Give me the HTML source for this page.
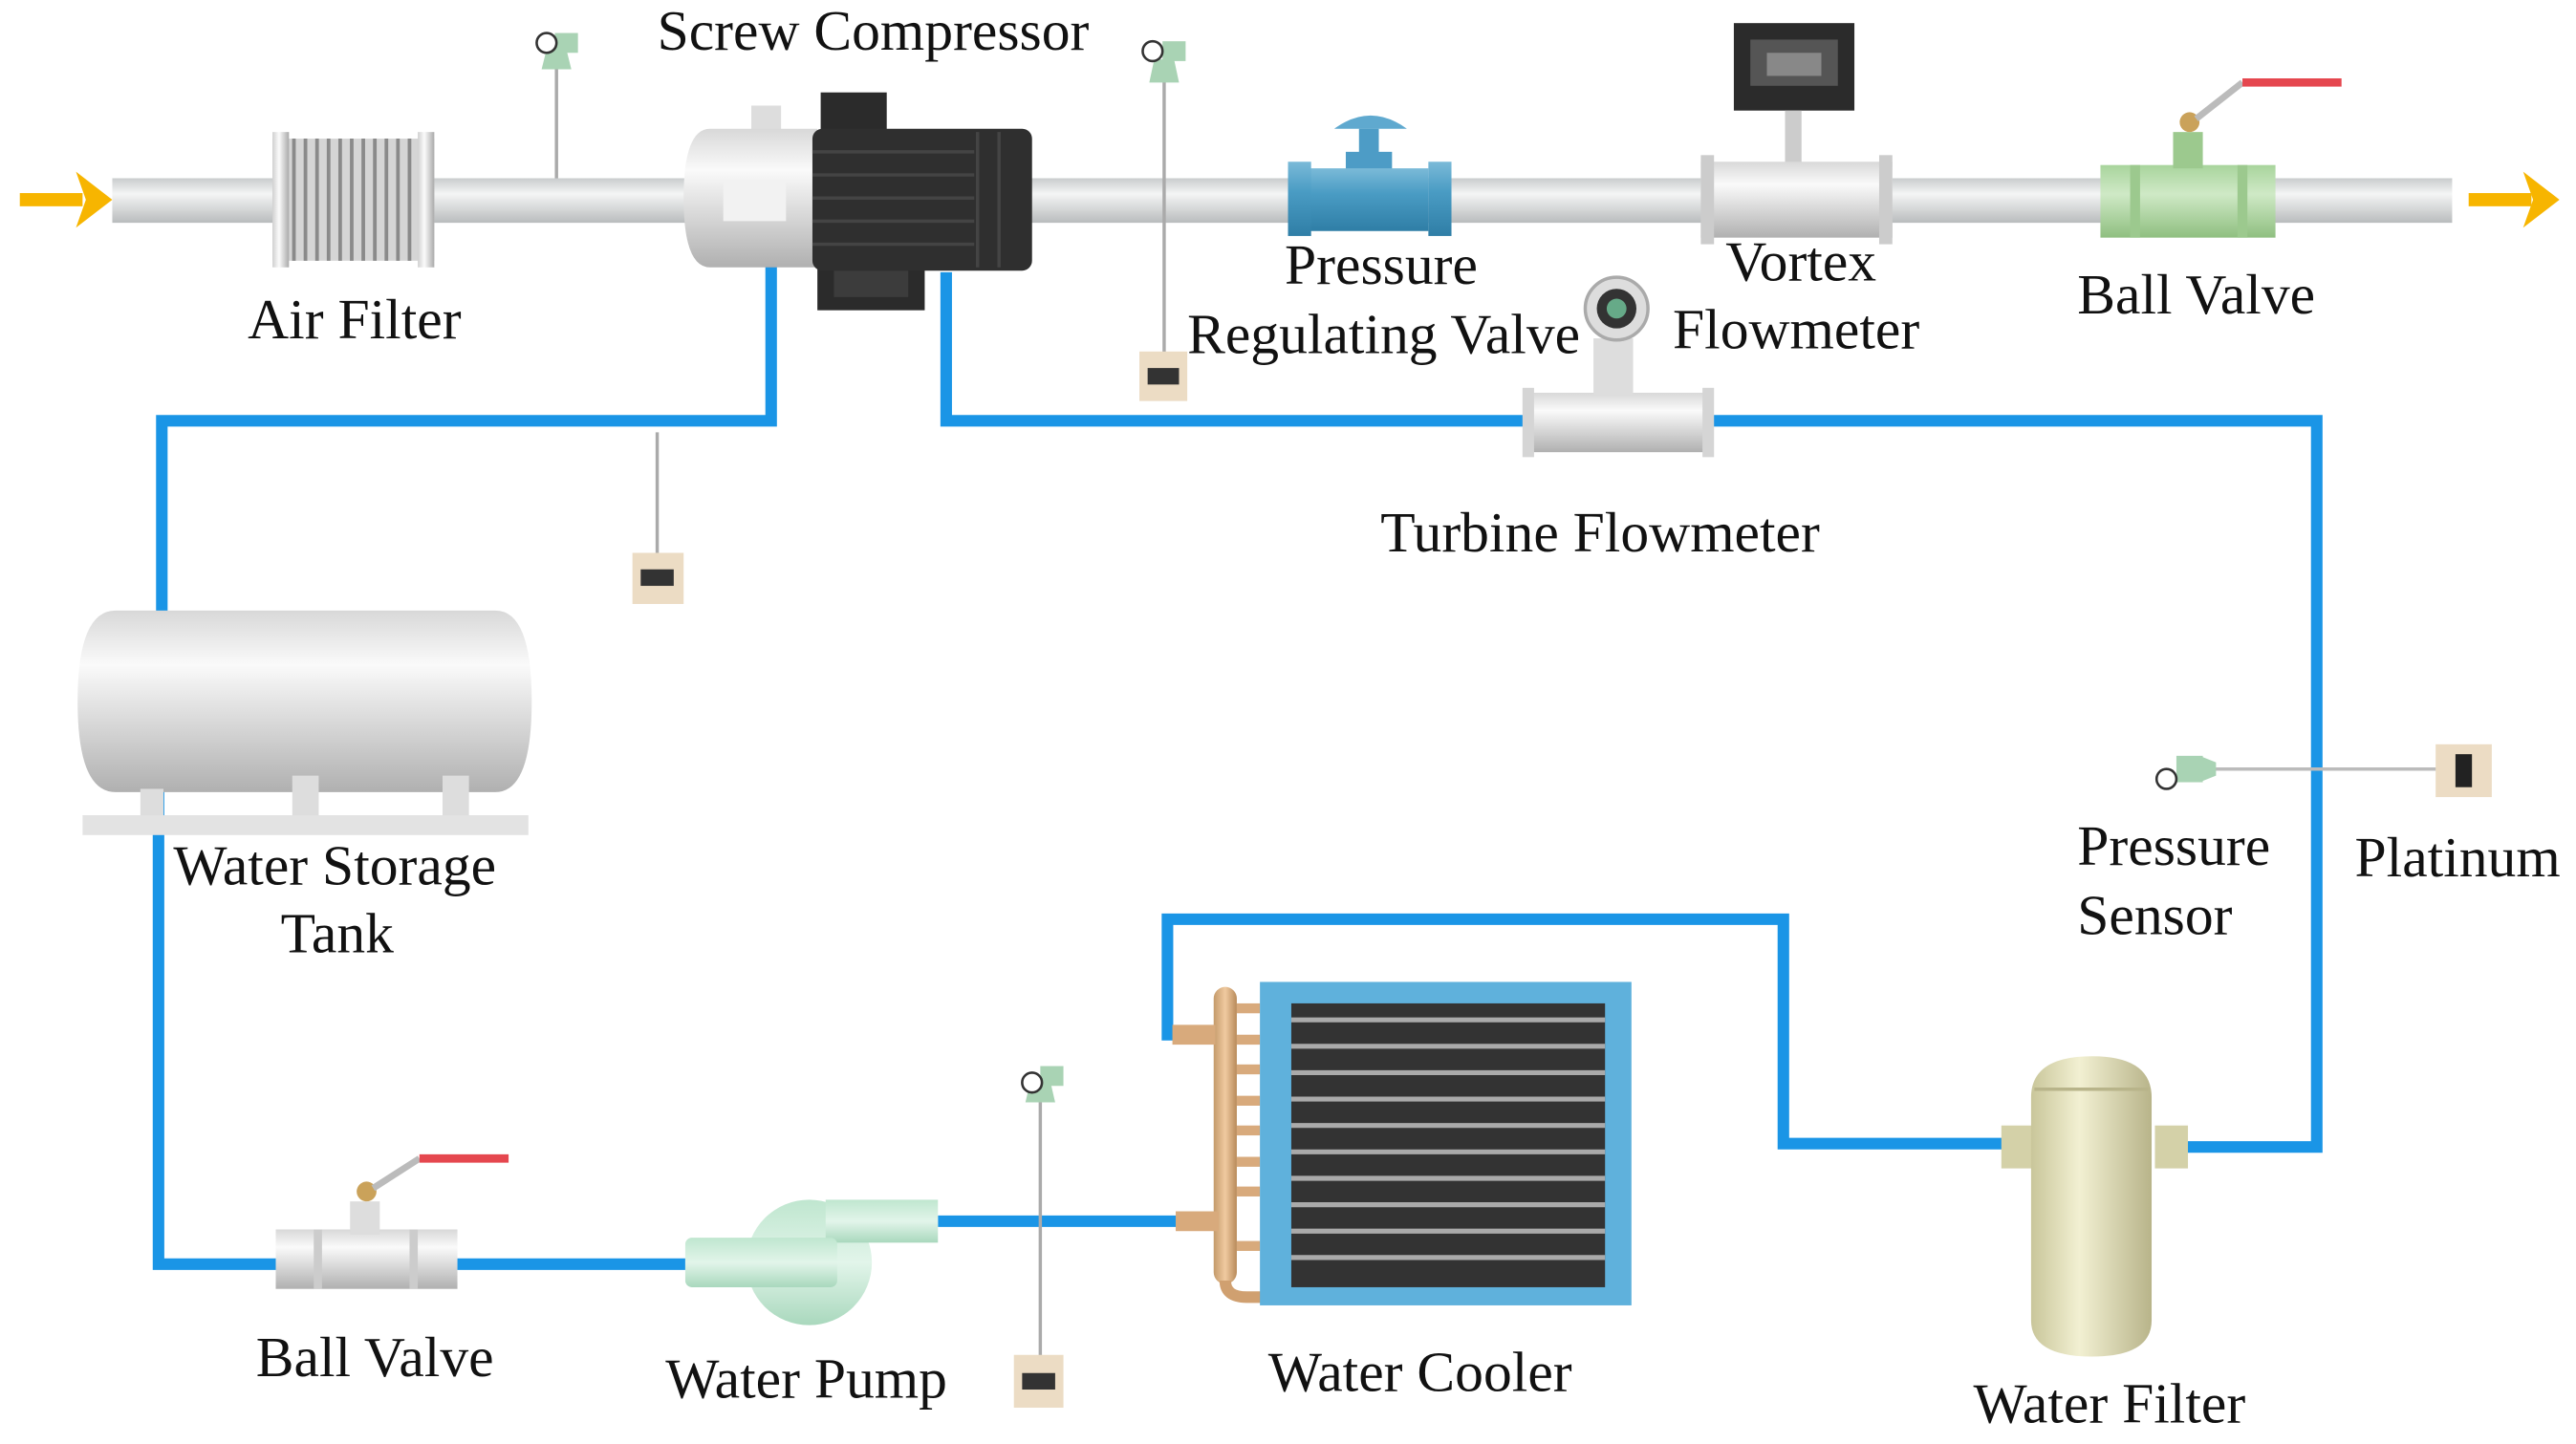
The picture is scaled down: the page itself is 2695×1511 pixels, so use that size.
<!DOCTYPE html>
<html><head><meta charset="utf-8"><style>
html,body{margin:0;padding:0;background:#fff;}
svg{display:block;}
text{font-family:"Liberation Serif",serif;font-size:34.5px;fill:#111;}
</style></head><body>
<svg width="2695" height="1511" viewBox="0 0 1560 875" preserveAspectRatio="none" xmlns="http://www.w3.org/2000/svg">
<defs>
<linearGradient id="pipe" x1="0" y1="0" x2="0" y2="1"><stop offset="0" stop-color="#c9cccd"/><stop offset="0.35" stop-color="#f4f5f5"/><stop offset="1" stop-color="#b9bcbd"/></linearGradient>
<linearGradient id="hcyl" x1="0" y1="0" x2="0" y2="1"><stop offset="0" stop-color="#d8d8d8"/><stop offset="0.3" stop-color="#fafafa"/><stop offset="1" stop-color="#b0b0b0"/></linearGradient>
<linearGradient id="vcyl" x1="0" y1="0" x2="1" y2="0"><stop offset="0" stop-color="#d0d0d0"/><stop offset="0.4" stop-color="#fbfbfb"/><stop offset="1" stop-color="#aaa"/></linearGradient>
<linearGradient id="blue" x1="0" y1="0" x2="0" y2="1"><stop offset="0" stop-color="#7bbad8"/><stop offset="0.4" stop-color="#4a9cc4"/><stop offset="1" stop-color="#2f7ea6"/></linearGradient>
<linearGradient id="green" x1="0" y1="0" x2="0" y2="1"><stop offset="0" stop-color="#a8d49c"/><stop offset="0.4" stop-color="#cfe9c6"/><stop offset="1" stop-color="#8fbf80"/></linearGradient>
<linearGradient id="olive" x1="0" y1="0" x2="1" y2="0"><stop offset="0" stop-color="#c9c69a"/><stop offset="0.4" stop-color="#f2f0d2"/><stop offset="1" stop-color="#b8b48a"/></linearGradient>
<linearGradient id="copper" x1="0" y1="0" x2="1" y2="0"><stop offset="0" stop-color="#c49a6a"/><stop offset="0.5" stop-color="#f0caa0"/><stop offset="1" stop-color="#b88a5a"/></linearGradient>
<linearGradient id="pump" x1="0" y1="0" x2="0" y2="1"><stop offset="0" stop-color="#bfe6cf"/><stop offset="0.5" stop-color="#e2f5ea"/><stop offset="1" stop-color="#a9d8bd"/></linearGradient>
</defs>

<rect x="68" y="108" width="1417" height="27" fill="url(#pipe)"/>
<g fill="#f7b500"><rect x="12" y="117" width="38" height="8"/><polygon points="46,104 68,121 46,138 52,121"/>
<rect x="1495" y="117" width="38" height="8"/><polygon points="1528,104 1550,121 1528,138 1534,121"/></g>

<g fill="none" stroke="#1a95e6" stroke-width="7" stroke-linejoin="miter">
<polyline points="467,158 467,255 98,255 98,372"/>
<polyline points="573,165 573,255 925,255"/>
<polyline points="1035,255 1403,255 1403,695 1320,695"/>
<polyline points="1215,693 1080,693 1080,557 707,557 707,627 738,627"/>
<polyline points="738,740 568,740"/>
<polyline points="415,766 277,766"/>
<polyline points="167,766 96,766 96,478"/>
</g>

<rect x="165" y="84" width="98" height="74" fill="#d5d5d5"/>
<g stroke="#8a8a8a" stroke-width="2.2">
<line x1="178" y1="84" x2="178" y2="158"/><line x1="185" y1="84" x2="185" y2="158"/><line x1="192" y1="84" x2="192" y2="158"/><line x1="199" y1="84" x2="199" y2="158"/><line x1="206" y1="84" x2="206" y2="158"/><line x1="213" y1="84" x2="213" y2="158"/><line x1="220" y1="84" x2="220" y2="158"/><line x1="227" y1="84" x2="227" y2="158"/><line x1="234" y1="84" x2="234" y2="158"/><line x1="241" y1="84" x2="241" y2="158"/><line x1="248" y1="84" x2="248" y2="158"/></g>
<rect x="165" y="80" width="10" height="82" fill="url(#vcyl)"/><rect x="253" y="80" width="10" height="82" fill="url(#vcyl)"/>

<line x1="337" y1="40" x2="337" y2="108" stroke="#aaa" stroke-width="2"/>
<polygon points="331,30 343,30 346,42 328,42" fill="#a9d3b4"/><rect x="336" y="20" width="14" height="12" fill="#a9d3b4"/><circle cx="331" cy="26" r="6" fill="#fff" stroke="#333" stroke-width="1.5"/>
<line x1="705" y1="48" x2="705" y2="215" stroke="#aaa" stroke-width="2"/>
<polygon points="699,36 711,36 714,50 696,50" fill="#a9d3b4"/><rect x="704" y="25" width="14" height="12" fill="#a9d3b4"/><circle cx="698" cy="31" r="6" fill="#fff" stroke="#333" stroke-width="1.5"/>
<rect x="690" y="213" width="29" height="30" fill="#ecdcc4"/><rect x="695" y="223" width="19" height="10" fill="#333"/>
<line x1="398" y1="262" x2="398" y2="336" stroke="#aaa" stroke-width="2"/>
<rect x="383" y="335" width="31" height="31" fill="#ecdcc4"/><rect x="388" y="345" width="20" height="10" fill="#333"/>
<line x1="630" y1="665" x2="630" y2="822" stroke="#aaa" stroke-width="2"/>
<polygon points="624,655 636,655 639,668 621,668" fill="#a9d3b4"/><rect x="630" y="646" width="14" height="12" fill="#a9d3b4"/><circle cx="625" cy="656" r="6" fill="#fff" stroke="#333" stroke-width="1.5"/>
<rect x="614" y="821" width="30" height="32" fill="#ecdcc4"/><rect x="619" y="832" width="20" height="10" fill="#333"/>

<rect x="455" y="64" width="18" height="16" fill="#ddd"/>
<path d="M430,78 H495 V162 H430 Q414,162 414,120 Q414,78 430,78Z" fill="url(#hcyl)"/>
<rect x="438" y="110" width="38" height="24" fill="#f2f2f2"/>
<rect x="497" y="56" width="40" height="26" fill="#2b2b2b"/>
<rect x="495" y="160" width="65" height="28" fill="#2b2b2b"/><rect x="505" y="164" width="45" height="16" fill="#3c3c3c"/>
<rect x="492" y="78" width="133" height="86" rx="6" fill="#2f2f2f"/>
<g stroke="#444" stroke-width="2"><line x1="492" y1="92" x2="590" y2="92"/><line x1="492" y1="106" x2="590" y2="106"/><line x1="492" y1="120" x2="590" y2="120"/><line x1="492" y1="134" x2="590" y2="134"/><line x1="492" y1="148" x2="590" y2="148"/><line x1="592" y1="80" x2="592" y2="162"/><line x1="605" y1="80" x2="605" y2="162"/></g>

<path d="M808,78 Q830,62 852,78 Z" fill="#5fa9cf"/>
<rect x="823" y="78" width="12" height="16" fill="#4d9cc6"/>
<rect x="815" y="92" width="28" height="12" fill="#4d9cc6"/>
<rect x="793" y="102" width="72" height="38" fill="url(#blue)"/>
<rect x="780" y="98" width="14" height="45" fill="url(#blue)"/><rect x="865" y="98" width="14" height="45" fill="url(#blue)"/>

<rect x="1050" y="14" width="73" height="53" fill="#2b2b2b"/><rect x="1060" y="24" width="53" height="28" fill="#555"/><rect x="1070" y="32" width="33" height="14" fill="#888"/>
<rect x="1081" y="67" width="10" height="33" fill="#ccc"/>
<rect x="1030" y="98" width="116" height="46" fill="url(#hcyl)"/>
<rect x="1030" y="94" width="8" height="54" fill="#ccc"/><rect x="1138" y="94" width="8" height="54" fill="#ccc"/>

<rect x="1272" y="100" width="106" height="44" fill="url(#green)"/>
<rect x="1290" y="100" width="6" height="44" fill="#9cc98e"/><rect x="1355" y="100" width="6" height="44" fill="#9cc98e"/>
<rect x="1316" y="80" width="18" height="22" fill="#9cc98e"/>
<circle cx="1326" cy="74" r="6" fill="#caa25a"/>
<line x1="1330" y1="72" x2="1358" y2="50" stroke="#bbb" stroke-width="4"/>
<line x1="1358" y1="50" x2="1418" y2="50" stroke="#e5474f" stroke-width="5"/>

<rect x="925" y="238" width="110" height="36" fill="url(#hcyl)"/>
<rect x="922" y="235" width="7" height="42" fill="#d5d5d5"/><rect x="1031" y="235" width="7" height="42" fill="#d5d5d5"/>
<rect x="965" y="205" width="24" height="35" fill="#ddd"/>
<circle cx="979" cy="187" r="19" fill="#ddd" stroke="#aaa" stroke-width="2"/><circle cx="979" cy="187" r="12" fill="#333"/><circle cx="979" cy="187" r="6" fill="#6a8"/>

<path d="M70,370 H300 Q322,370 322,425 Q322,480 300,480 H70 Q47,480 47,425 Q47,370 70,370Z" fill="url(#hcyl)"/>
<rect x="85" y="478" width="14" height="18" fill="#ddd"/><rect x="177" y="470" width="16" height="26" fill="#ddd"/><rect x="268" y="470" width="16" height="26" fill="#ddd"/>
<rect x="50" y="494" width="270" height="12" fill="#e3e3e3"/>

<line x1="1330" y1="466" x2="1478" y2="466" stroke="#bbb" stroke-width="2"/>
<rect x="1318" y="458" width="16" height="16" fill="#a9d3b4"/><polygon points="1332,458 1342,462 1342,470 1332,474" fill="#a9d3b4"/>
<circle cx="1312" cy="472" r="6" fill="#fff" stroke="#333" stroke-width="1.5"/>
<rect x="1475" y="451" width="34" height="32" fill="#ecdcc4"/><rect x="1487" y="457" width="10" height="20" fill="#222"/>

<rect x="1212" y="682" width="20" height="26" fill="#d4d1a8"/><rect x="1305" y="682" width="20" height="26" fill="#d4d1a8"/>
<path d="M1230,665 Q1230,640 1267,640 Q1303,640 1303,665 V800 Q1303,822 1267,822 Q1230,822 1230,800Z" fill="url(#olive)"/>
<line x1="1232" y1="660" x2="1301" y2="660" stroke="#b8b48a" stroke-width="2"/>

<rect x="735" y="598" width="14" height="180" rx="7" fill="url(#copper)"/>
<g fill="#d8aa7c"><rect x="749" y="608" width="14" height="6"/><rect x="749" y="627" width="14" height="6"/><rect x="749" y="645" width="14" height="6"/><rect x="749" y="664" width="14" height="6"/><rect x="749" y="682" width="14" height="6"/><rect x="749" y="701" width="14" height="6"/><rect x="749" y="719" width="14" height="6"/><rect x="749" y="752" width="14" height="6"/>
<rect x="710" y="621" width="26" height="12"/><rect x="712" y="734" width="26" height="12"/></g>
<path d="M742,776 Q742,786 755,786 H764" fill="none" stroke="#d0a070" stroke-width="7"/>
<rect x="763" y="595" width="225" height="196" fill="#5fb1dc"/>
<rect x="782" y="608" width="190" height="172" fill="#333"/>
<g stroke="#aaa" stroke-width="3"><line x1="782" y1="618" x2="972" y2="618"/><line x1="782" y1="634" x2="972" y2="634"/><line x1="782" y1="650" x2="972" y2="650"/><line x1="782" y1="666" x2="972" y2="666"/><line x1="782" y1="682" x2="972" y2="682"/><line x1="782" y1="698" x2="972" y2="698"/><line x1="782" y1="714" x2="972" y2="714"/><line x1="782" y1="730" x2="972" y2="730"/><line x1="782" y1="746" x2="972" y2="746"/><line x1="782" y1="762" x2="972" y2="762"/></g>

<circle cx="490" cy="765" r="38" fill="url(#pump)"/>
<rect x="500" y="727" width="68" height="26" fill="url(#pump)"/>
<rect x="415" y="750" width="92" height="30" rx="4" fill="url(#pump)"/>

<rect x="167" y="745" width="110" height="36" fill="url(#hcyl)"/>
<rect x="190" y="745" width="5" height="36" fill="#ccc"/><rect x="248" y="745" width="5" height="36" fill="#ccc"/>
<rect x="212" y="728" width="18" height="20" fill="#ddd"/>
<circle cx="222" cy="722" r="6" fill="#caa25a"/>
<line x1="226" y1="720" x2="254" y2="702" stroke="#bbb" stroke-width="4"/>
<line x1="254" y1="702" x2="308" y2="702" stroke="#e5474f" stroke-width="5"/>

<text x="398" y="30">Screw Compressor</text>
<text x="150" y="205">Air Filter</text>
<text x="778" y="172">Pressure</text>
<text x="719" y="214">Regulating Valve</text>
<text x="1045" y="170">Vortex</text>
<text x="1013" y="211">Flowmeter</text>
<text x="1258" y="190">Ball Valve</text>
<text x="836" y="334">Turbine Flowmeter</text>
<text x="105" y="536">Water Storage</text>
<text x="170" y="577">Tank</text>
<text x="1258" y="524">Pressure</text>
<text x="1258" y="566">Sensor</text>
<text x="1426" y="531">Platinum</text>
<text x="155" y="834">Ball Valve</text>
<text x="403" y="847">Water Pump</text>
<text x="768" y="843">Water Cooler</text>
<text x="1195" y="862">Water Filter</text>
</svg>
</body></html>
